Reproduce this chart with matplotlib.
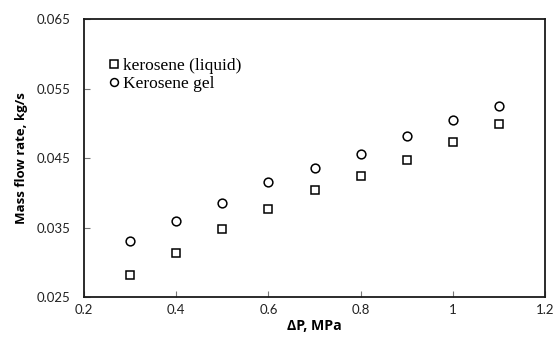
import matplotlib
matplotlib.use('Agg')
import matplotlib.pyplot as plt

druck = [0.3, 0.4, 0.5, 0.6, 0.7, 0.8, 0.9, 1.0, 1.1]
kerosin_fluessig = [0.0281, 0.0313, 0.0348, 0.0376, 0.0404, 0.0424, 0.0447, 0.0473, 0.0499]
kerosin_gel = [0.0330, 0.0360, 0.0385, 0.0415, 0.0436, 0.0456, 0.0481, 0.0504, 0.0525]

x_ticks = [0.2, 0.4, 0.6, 0.8, 1.0, 1.2]
x_labels = ['0.2', '0.4', '0.6', '0.8', '1', '1.2']
y_ticks = [0.025, 0.035, 0.045, 0.055, 0.065]
y_labels = ['0.025', '0.035', '0.045', '0.055', '0.065']

fig = plt.figure(figsize=(5.57, 3.45), dpi=100)
ax = fig.add_axes([0.1508, 0.1391, 0.8277, 0.8058])

ax.plot(druck, kerosin_fluessig, linestyle='none', marker='s', markersize=6,
        markerfacecolor='white', markeredgecolor='black', markeredgewidth=1.1,
        label='kerosene (liquid)')
ax.plot(druck, kerosin_gel, linestyle='none', marker='o', markersize=6.3,
        markerfacecolor='white', markeredgecolor='black', markeredgewidth=1.1,
        label='Kerosene gel')

ax.set_xlim(0.2, 1.2)
ax.set_ylim(0.025, 0.065)
ax.set_xticks(x_ticks)
ax.set_xticklabels(x_labels)
ax.set_yticks(y_ticks)
ax.set_yticklabels(y_labels)

for spine in ax.spines.values():
    spine.set_linewidth(1.3)
    spine.set_color('#1a1a1a')

ax.tick_params(direction='in', length=4, width=0.8, color='#777777',
               labelsize=9.5, labelcolor='#222222')
ax.tick_params(axis='y', pad=10)
ax.tick_params(axis='x', pad=5)
for lbl in ax.get_xticklabels() + ax.get_yticklabels():
    lbl.set_fontfamily('Lato')

ax.set_xlabel('ΔP, MPa', fontfamily='Open Sans', fontweight='bold', fontsize=10.2, labelpad=2)
ax.set_ylabel('Mass flow rate, kg/s', fontfamily='Open Sans', fontweight='bold', fontsize=9.5, labelpad=6)

leg = ax.legend(loc='upper left', bbox_to_anchor=(0.012, 0.918), frameon=False,
                prop={'family': 'Liberation Serif', 'size': 12.5},
                handletextpad=0.0, handlelength=1.0, labelspacing=0.12,
                markerscale=0.9)

fig.savefig('out.png', dpi=100)
